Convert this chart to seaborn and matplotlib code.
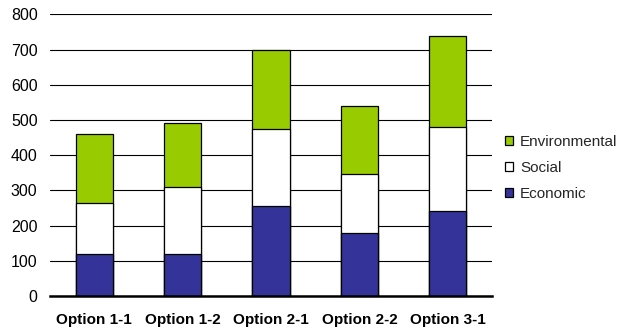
import matplotlib
matplotlib.use("Agg")
import matplotlib.pyplot as plt
import seaborn as sns
import pandas as pd
import numpy as np

options = ["Option 1-1", "Option 1-2", "Option 2-1", "Option 2-2", "Option 3-1"]
economic = [120, 120, 257, 180, 240]
social = [145, 190, 216, 167, 241]
environmental = [195, 180, 227, 193, 256]

sns.set_theme(style="white")
plt.rcParams["font.family"] = ["Liberation Sans", "DejaVu Sans"]

df = pd.DataFrame({"option": options, "Economic": economic,
                   "Social": social, "Environmental": environmental})
df["lvl_econ"] = df["Economic"]
df["lvl_soc"] = df["Economic"] + df["Social"]
df["lvl_env"] = df["lvl_soc"] + df["Environmental"]

fig = plt.figure(figsize=(6.21, 3.32), dpi=100)
ax = fig.add_axes([50 / 621, 1 - 296 / 332, 442 / 621, (296 - 14.3) / 332])

# stacked bars drawn as cumulative levels, tallest first
layers = [("lvl_env", "#99CC00", "Environmental"),
          ("lvl_soc", "#FFFFFF", "Social"),
          ("lvl_econ", "#333399", "Economic")]
for col, color, label in layers:
    sns.barplot(data=df, x="option", y=col, color=color, edgecolor="black",
                linewidth=0.9, width=0.42, saturation=1, label=label, ax=ax,
                zorder=3)

ax.set_ylim(0, 800)
ax.set_xlim(-0.5, 4.5)
ax.set_yticks(np.arange(0, 801, 100))
ax.yaxis.grid(True, color="black", linewidth=0.8)
ax.set_axisbelow(True)
for s in ["top", "right", "left"]:
    ax.spines[s].set_visible(False)
ax.spines["bottom"].set_color("black")
ax.spines["bottom"].set_linewidth(1.8)
ax.spines["bottom"].set_zorder(4)

ax.set_xlabel("")
ax.set_ylabel("")
ax.tick_params(axis="y", length=0, pad=9, labelsize=11.5, colors="black")
ax.tick_params(axis="x", which="major", length=0, pad=12, labelsize=11, colors="black")
ax.set_xticks(np.arange(-0.5, 5, 1), minor=True)
ax.tick_params(axis="x", which="minor", length=5, width=1.5, direction="out", color="black")
for t in ax.get_xticklabels():
    t.set_fontweight("bold")

handles, labels = ax.get_legend_handles_labels()
ax.legend(handles, labels, loc="center left", bbox_to_anchor=(1.015, 0.455),
          frameon=False, fontsize=11, handlelength=0.55, handleheight=0.55,
          handletextpad=0.45, labelspacing=0.8, borderaxespad=0)

fig.savefig("out.png", dpi=100)
